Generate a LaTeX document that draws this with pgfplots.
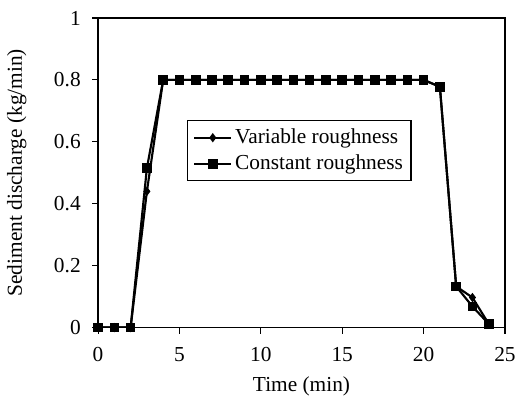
\documentclass[border=0pt]{standalone}
\usepackage{pgfplots}
\pgfplotsset{compat=1.18}
\usepackage{fontspec}
\setmainfont{Liberation Serif}
\begin{document}
\fontsize{16pt}{18.5pt}\selectfont
\begin{tikzpicture}
\begin{axis}[
  scale only axis,
  width=305pt, height=232pt,
  xmin=0, xmax=25, ymin=0, ymax=1,
  xtick={0,5,10,15,20,25},
  ytick={0,0.2,0.4,0.6,0.8,1},
  yticklabels={0,0.2,0.4,0.6,0.8,1},
  tick align=outside,
  tick pos=left,
  major tick length=4.5pt,
  axis line style={line width=1.1pt},
  tick style={line width=0.8pt, black},
  /pgf/number format/assume math mode=true,
  xticklabel style={yshift=-9pt, inner sep=1pt},
  yticklabel style={xshift=-3pt},
  xlabel={Time (min)},
  ylabel={Sediment discharge (kg/min)},
  xlabel style={at={(axis description cs:0.5,-0.19)}, anchor=center, inner sep=1pt},
  ylabel style={at={(axis description cs:-0.2,0.5)}, anchor=center},
  legend style={at={(0.219,0.67)}, anchor=north west, draw=black, line width=0.8pt, font=\fontsize{16pt}{18.5pt}\selectfont, inner sep=4pt, row sep=2pt},
  legend cell align=left,
  legend image code/.code={\draw[#1] (0pt,0pt) -- (28pt,0pt); \draw[#1, only marks] plot coordinates {(14pt,0pt)};},
]
\addplot[black, line width=1.6pt, mark=diamond*, mark size=2.2pt] coordinates {
(0,0) (1,0) (2,0) (3,0.44) (4,0.8) (5,0.8) (6,0.8) (7,0.8) (8,0.8) (9,0.8) (10,0.8)
(11,0.8) (12,0.8) (13,0.8) (14,0.8) (15,0.8) (16,0.8) (17,0.8) (18,0.8) (19,0.8) (20,0.8)
(21,0.778) (22,0.133) (23,0.097) (24,0.012)
};
\addlegendentry{Variable roughness}
\addplot[black, line width=1.6pt, mark=square*, mark size=2.8pt] coordinates {
(0,0) (1,0) (2,0) (3,0.515) (4,0.8) (5,0.8) (6,0.8) (7,0.8) (8,0.8) (9,0.8) (10,0.8)
(11,0.8) (12,0.8) (13,0.8) (14,0.8) (15,0.8) (16,0.8) (17,0.8) (18,0.8) (19,0.8) (20,0.8)
(21,0.778) (22,0.133) (23,0.068) (24,0.012)
};
\addlegendentry{Constant roughness}
\end{axis}
\pgfresetboundingbox
\path ([xshift=-73.5pt,yshift=-57.75pt]current axis.south west) rectangle ([xshift=9pt,yshift=13.5pt]current axis.north east);
\end{tikzpicture}
\end{document}
